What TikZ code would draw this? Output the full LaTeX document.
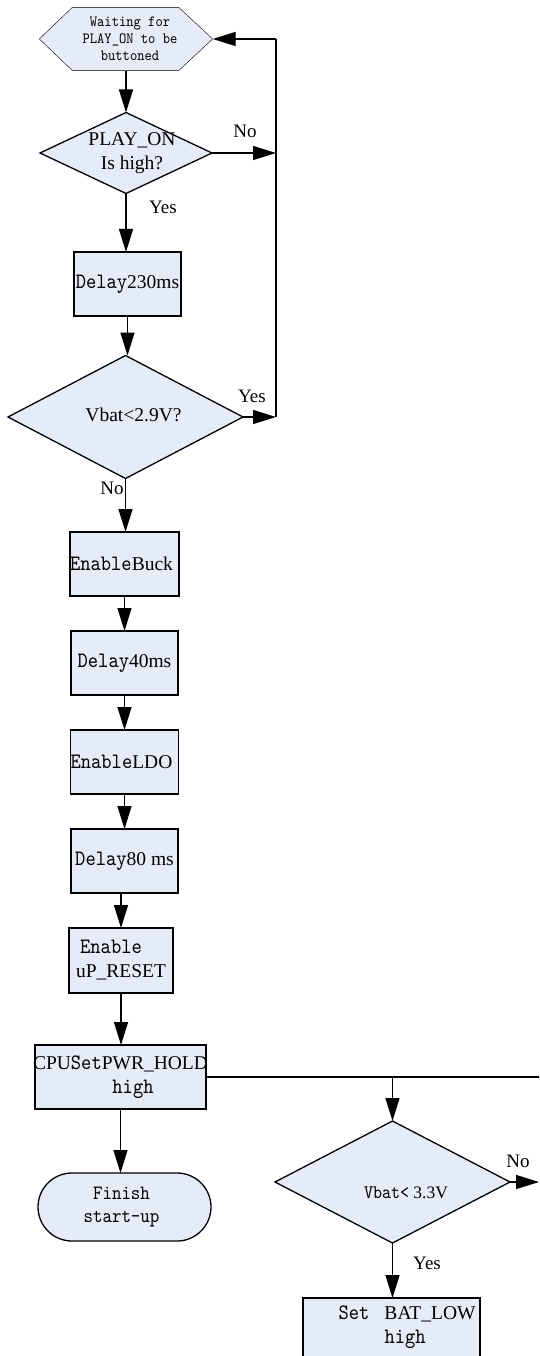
\documentclass[tikz,border=0pt]{standalone}
\usepackage{fontspec}
\setmainfont{Liberation Serif}
\newfontfamily\zhfont[Extension=.otf, FakeStretch=0.89]{lmmono10-regular}
\newcommand{\zh}[1]{{\zhfont\fontsize{22}{24}\selectfont #1}}
\usetikzlibrary{arrows.meta,shapes.geometric,backgrounds}
\definecolor{boxfill}{RGB}{230,236,247}
\begin{document}
\begin{tikzpicture}[x=1pt,y=-1pt,
  font=\fontsize{19.5}{24}\selectfont,
  line width=1.3pt,
  shp/.style={draw=black, fill=boxfill, line width=1.3pt, inner sep=0pt, outer sep=0pt},
  box/.style={shp, rectangle, minimum width=107pt, minimum height=64pt, align=center},
  dia/.style={shp, diamond},
  arr/.style={-{Triangle[length=23pt,width=14pt]}},
  lbl/.style={inner sep=0pt, font=\fontsize{19}{22}\selectfont},
]
\path[use as bounding box] (0,0) rectangle (539,1356);
\clip (0,0) rectangle (539,1356);

% start hexagon (text node; outline drawn on background)
\node[inner sep=0pt, minimum width=172pt, minimum height=62pt, align=center,
      font=\zhfont\fontsize{15.6}{17}\selectfont] (hex) at (126,39)
      {\hspace*{8pt}Waiting for\\\hspace*{8pt}PLAY\_ON to be\\\hspace*{8pt}buttoned};
\begin{scope}[on background layer]
  \fill[white] (0,0) rectangle (539,1356);
  \draw[fill=boxfill] (hex.west) -- ([xshift=33pt]hex.north west) -- ([xshift=-34pt]hex.north east)
     -- (hex.east) -- ([xshift=-34pt]hex.south east) -- ([xshift=33pt]hex.south west) -- cycle;
\end{scope}

\node[dia, minimum width=172pt, minimum height=81pt,
      label={[align=center, xshift=6pt]center:PLAY\_ON\\Is high?}] (d1) at (126,153) {};
\node[box] (b1) at (127.5,284) {\zh{Delay}230ms};
\node[dia, minimum width=235pt, minimum height=123pt,
      label={[xshift=8pt, yshift=2pt]center:Vbat<2.9V?}] (d2) at (125.5,417) {};
\node[box] (buck) at (124.5,564) {\zh{Enable}Buck\hspace*{6pt}};
\node[box] (d40) at (124.5,663) {\zh{Delay}40ms};
\node[box] (ldo) at (124.5,762) {\zh{Enable}LDO\hspace*{6pt}};
\node[box] (d80) at (124.5,861) {\zh{Delay}80 ms};
\node[box, minimum width=104pt, minimum height=65pt] (rst) at (121,960.5)
      {\zh{Enable}\hspace*{20pt}\\uP\_RESET};
\node[box, minimum width=171pt] (cpu) at (120.5,1077)
      {\makebox[171pt]{CPU\zh{Set}PWR\_HOLD}\\\hspace*{25pt}\zh{high}};
\node[shp, rounded corners=34pt, minimum width=173pt, minimum height=68pt, align=center,
      font=\zhfont\fontsize{20.3}{23}\selectfont] (fin) at (124.5,1207)
      {Finish\hspace*{6pt}\\start-up\hspace*{6pt}};
\node[dia, minimum width=235pt, minimum height=122pt,
      label={[xshift=13.5pt, yshift=-11pt, font=\fontsize{17.5}{20}\selectfont]center:{\zhfont\fontsize{19.3}{20}\selectfont Vbat<} 3.3V}] (d3) at (392.5,1182) {};
\node[box, minimum width=177pt, minimum height=70pt, anchor=north] (set) at (391.5,1298) {};
\node[anchor=north west, inner sep=0pt, align=left] (setT) at (338,1305)
      {\zh{Set}\hspace{15pt}BAT\_LOW\\\hspace*{46pt}\zh{high}};

% loop-back coordinates
\coordinate (lt) at (276,39);
\coordinate (lm) at (276,153);
\coordinate (lb) at (276,417);
\coordinate (jn) at (392.5,1077);
\coordinate (re) at (545,1077);
\coordinate (d3no) at (539,1182);

% connectors
\draw[arr] (hex.south) -- (d1.north);
\draw[arr] (d1.south) -- (d1.south |- b1.north);
\draw[arr] (b1.south) -- (b1.south |- d2.north);
\draw[arr] (d2.south) -- (d2.south |- buck.north);
\draw[arr] (buck.south) -- (d40.north);
\draw[arr] (d40.south) -- (ldo.north);
\draw[arr] (ldo.south) -- (d80.north);
\draw[arr] (rst.north |- d80.south) -- (rst.north);
\draw[arr] (rst.south) -- (rst.south |- cpu.north);
\draw[arr] (cpu.south) -- (cpu.south |- fin.north);
\draw[arr] (d1.east) -- (lm);
\draw[arr] (d2.east) -- (lb);
\draw (lb) -- (lt);
\draw[arr] (lt) -- (hex.east);
\draw (cpu.east) -- (re);
\draw[arr] (jn) -- (d3.north);
\draw[arr] (d3.east) -- (d3no);
\draw[arr] (d3.south) -- (d3.south |- set.north);

% branch labels
\node[lbl] (no1) at (245,131) {No};
\node[lbl] (yes1) at (163,207) {Yes};
\node[lbl] (yes2) at (252,396) {Yes};
\node[lbl] (no2) at (112,488) {No};
\node[lbl] (no3) at (518,1161) {No};
\node[lbl] (yes3) at (427,1263) {Yes};
\end{tikzpicture}
\end{document}
